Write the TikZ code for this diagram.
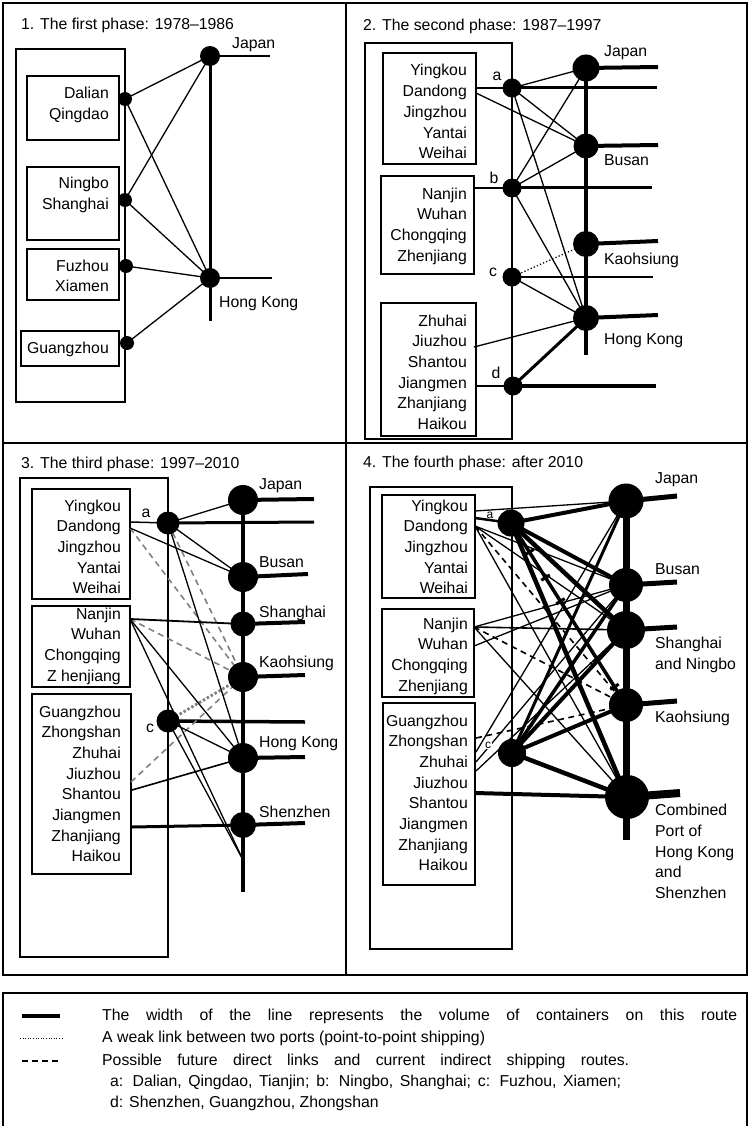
\documentclass[tikz,border=0pt]{standalone}
\usepackage{fontspec}
\setmainfont{Liberation Sans}
\newcommand\portlist[4]{\foreach \t [count=\i] in {#4}{\node[txt,anchor=east] (#1-\i) at (#2,{#3+20.7*(\i-1)}) {\t};}}
\tikzset{
  every node/.style={font=\fontsize{15.8}{19}\selectfont, inner sep=0pt},
  txt/.style={text height=11.3pt, text depth=3.3pt},
  smalltxt/.style={font=\fontsize{12}{14}\selectfont},
  hub/.style={circle, fill=black, inner sep=0pt, minimum size=#1},
  frameline/.style={line width=1.3pt},
  portbox/.style={draw, line width=1.8pt},
  link/.style={line width=1.3pt},
  futurelink/.style={line width=1.6pt, dash pattern=on 6pt off 4.5pt},
  greyfuture/.style={line width=1.6pt, gray, dash pattern=on 6pt off 4.5pt},
  greyweak/.style={line width=2.8pt, gray, dash pattern=on 2.5pt off 2pt},
  weaklink/.style={line width=1.3pt, dash pattern=on 1.2pt off 2.2pt},
  tickbar/.style={fill=black, inner sep=0pt, sloped, minimum width=3pt, minimum height=10pt},
}
\begin{document}
\begin{tikzpicture}[x=1pt,y=-1pt]
\useasboundingbox (0,0) rectangle (750,1126);

% ---------- frame of the four phases ----------
\draw[frameline] (3,3) rectangle (747,975);
\draw[frameline] (346,3) -- (346,975);
\draw[frameline] (3,443) -- (747,443);

% ================= 1. first phase =================
\node[anchor=west] (t1) at (21,25) {1. The first phase: 1978–1986};
\draw[portbox] (16,49) rectangle (125,402);
\draw[portbox] (27,76) rectangle (119,140);
\draw[portbox] (27,167) rectangle (119,240);
\draw[portbox] (27,249) rectangle (119,300);
\draw[portbox] (21,331) rectangle (119,366);
\portlist{pa}{109}{95}{Dalian,Qingdao}
\portlist{pb}{109}{185}{Ningbo,Shanghai}
\portlist{pc}{109}{267}{Fuzhou,Xiamen}
\portlist{pd}{109}{349}{Guangzhou}

\coordinate (J1) at (210,56);
\coordinate (H1) at (210,278);
\coordinate (J1e) at (270,56);
\coordinate (H1e) at (272,278);
\coordinate (T1) at (210,321);
\coordinate (d1a) at (125,99);
\coordinate (d1b) at (125,200);
\coordinate (d1c) at (126,266);
\coordinate (d1d) at (127,343);

\draw[line width=3pt] (J1) -- (T1);
\draw[line width=2.5pt] (J1) -- (J1e);
\draw[line width=2.5pt] (H1) -- (H1e);
\draw[link] (d1a) -- (J1);
\draw[link] (d1a) -- (H1);
\draw[link] (d1b) -- (J1);
\draw[link] (d1b) -- (H1);
\draw[link] (d1c) -- (H1);
\draw[link] (d1d) -- (H1);
\node[hub=20] (J1n) at (J1) {};
\node[hub=20] (H1n) at (H1) {};
\node[hub=14] (d1an) at (d1a) {};
\node[hub=14] (d1bn) at (d1b) {};
\node[hub=14] (d1cn) at (d1c) {};
\node[hub=14] (d1dn) at (d1d) {};
\node[txt,anchor=west] (J1l) at (232,45) {Japan};
\node[txt,anchor=west] (H1l) at (219,303) {Hong Kong};

% ================= 2. second phase =================
\node[anchor=west] (t2) at (363,26) {2. The second phase: 1987–1997};
\draw[portbox] (365,43) rectangle (512,439);
\draw[portbox] (383,53) rectangle (476,164);
\draw[portbox] (381,176) rectangle (474,274);
\draw[portbox] (381,303) rectangle (476,436);
\portlist{qa}{467}{72}{Yingkou,Dandong,Jingzhou,Yantai,Weihai}
\portlist{qb}{467}{195}{Nanjin,Wuhan,Chongqing,Zhenjiang}
\portlist{qc}{467}{322}{Zhuhai,Jiuzhou,Shantou,Jiangmen,Zhanjiang,Haikou}

\coordinate (J2) at (586,68);
\coordinate (B2) at (586,146);
\coordinate (K2) at (586,244);
\coordinate (H2) at (586,318);
\coordinate (T2) at (586,355);
\coordinate (a2) at (512,88);
\coordinate (b2) at (512,188);
\coordinate (c2) at (512,277);
\coordinate (d2) at (513,386);
\coordinate (ya2) at (476,88);
\coordinate (yd2) at (476,93);
\coordinate (yb2) at (474,188);
\coordinate (yj2) at (474,347);
\coordinate (yg2) at (476,386);

\draw[line width=4pt] (J2) -- (T2);
\draw[line width=4pt] (J2) -- (658,67);
\draw[line width=4pt] (B2) -- (658,145);
\draw[line width=4pt] (K2) -- (658,241);
\draw[line width=4pt] (H2) -- (658,315);
\draw[line width=3pt] (a2) -- (657,88);
\draw[line width=3pt] (b2) -- (652,188);
\draw[line width=2.5pt] (c2) -- (653,277);
\draw[line width=3.5pt] (d2) -- (656,386);
\draw[line width=2pt] (ya2) -- (a2);
\draw[line width=2pt] (yb2) -- (b2);
\draw[line width=2pt] (yg2) -- (d2);
\draw[link] (a2) -- (J2);
\draw[link] (a2) -- (B2);
\draw[link] (a2) -- (H2);
\draw[link] (yd2) -- (B2);
\draw[link] (b2) -- (J2);
\draw[link] (b2) -- (B2);
\draw[link] (b2) -- (H2);
\draw[link] (c2) -- (H2);
\draw[link] (yj2) -- (H2);
\draw[line width=3pt] (d2) -- (H2);
\draw[weaklink] (c2) -- (K2);
\node[hub=27] (J2n) at (J2) {};
\node[hub=25] (B2n) at (B2) {};
\node[hub=26] (K2n) at (K2) {};
\node[hub=26] (H2n) at (H2) {};
\node[hub=19] (a2n) at (a2) {};
\node[hub=19] (b2n) at (b2) {};
\node[hub=19] (c2n) at (c2) {};
\node[hub=19] (d2n) at (d2) {};
\node[txt] (a2l) at (497,77) {a};
\node[txt] (b2l) at (494,180) {b};
\node[txt] (c2l) at (493,272) {c};
\node[txt] (d2l) at (496,374) {d};
\node[txt,anchor=west] (J2l) at (604,53) {Japan};
\node[txt,anchor=west] (B2l) at (604,162) {Busan};
\node[txt,anchor=west] (K2l) at (604,260) {Kaohsiung};
\node[txt,anchor=west] (H2l) at (604,340) {Hong Kong};

% ================= 3. third phase =================
\node[anchor=west] (t3) at (21,464) {3. The third phase: 1997–2010};
\draw[portbox] (20,478) rectangle (168,957);
\draw[portbox] (32,489) rectangle (130,599);
\draw[portbox] (32,606) rectangle (130,687);
\draw[portbox] (32,694) rectangle (131,874);
\portlist{ra}{121}{507}{Yingkou,Dandong,Jingzhou,Yantai,Weihai}
\portlist{rb}{121}{615}{Nanjin,Wuhan,Chongqing,Z henjiang}
\portlist{rc}{121}{713}{Guangzhou,Zhongshan,Zhuhai,Jiuzhou,Shantou,Jiangmen,Zhanjiang,Haikou}

\coordinate (J3) at (243,500);
\coordinate (B3) at (243,577);
\coordinate (S3) at (243,624);
\coordinate (K3) at (243,677);
\coordinate (H3) at (243,758);
\coordinate (Z3) at (243,825);
\coordinate (T3) at (243,892);
\coordinate (L3) at (243,860);
\coordinate (a3) at (168,523);
\coordinate (c3) at (168,721);
\coordinate (ya3) at (130,522);
\coordinate (yd3) at (130,528);
\coordinate (yn3) at (130,619);
\coordinate (yj3) at (131,782);
\coordinate (ys3) at (132,790);
\coordinate (yg3) at (132,827);

\draw[line width=4pt] (J3) -- (T3);
\draw[line width=4pt] (J3) -- (314,499);
\draw[line width=4pt] (B3) -- (308,574);
\draw[line width=4pt] (S3) -- (305,622);
\draw[line width=4pt] (K3) -- (305,675);
\draw[line width=4pt] (H3) -- (305,757);
\draw[line width=4pt] (Z3) -- (305,823);
\draw[line width=3pt] (a3) -- (314,522);
\draw[line width=3.5pt] (c3) -- (305,722);
\draw[line width=1.5pt] (ya3) -- (a3);
\draw[greyfuture] (yd3) -- (K3);
\draw[greyfuture] (a3) -- (K3);
\draw[greyfuture] (yn3) -- (K3);
\draw[greyfuture] (yj3) -- (K3);
\draw[greyweak] (c3) -- (K3);
\draw[link] (a3) -- (J3);
\draw[link] (a3) -- (B3);
\draw[link] (a3) -- (H3);
\draw[link] (yd3) -- (B3);
\draw[line width=1.8pt] (yn3) -- (S3);
\draw[link] (yn3) -- (H3);
\draw[link] (yn3) -- (L3);
\draw[link] (c3) -- (H3);
\draw[link] (c3) -- (L3);
\draw[line width=1.6pt] (ys3) -- (H3);
\draw[line width=3pt] (yg3) -- (Z3);
\node[hub=30] (J3n) at (J3) {};
\node[hub=30] (B3n) at (B3) {};
\node[hub=25] (S3n) at (S3) {};
\node[hub=30] (K3n) at (K3) {};
\node[hub=30] (H3n) at (H3) {};
\node[hub=26] (Z3n) at (Z3) {};
\node[hub=23] (a3n) at (a3) {};
\node[hub=23] (c3n) at (c3) {};
\node[txt] (a3l) at (146,513) {a};
\node[txt] (c3l) at (150,728) {c};
\node[txt,anchor=west] (J3l) at (259,485) {Japan};
\node[txt,anchor=west] (B3l) at (259,563) {Busan};
\node[txt,anchor=west] (S3l) at (259,613) {Shanghai};
\node[txt,anchor=west] (K3l) at (259,663) {Kaohsiung};
\node[txt,anchor=west] (H3l) at (259,743) {Hong Kong};
\node[txt,anchor=west] (Z3l) at (259,813) {Shenzhen};

% ================= 4. fourth phase =================
\node[anchor=west] (t4) at (363,463) {4. The fourth phase: after 2010};
\draw[portbox] (370,487) rectangle (512,949);
\draw[portbox] (382,495) rectangle (475,598);
\draw[portbox] (382,609) rectangle (474,697);
\draw[portbox] (383,703) rectangle (475,885);
\portlist{sa}{468}{507}{Yingkou,Dandong,Jingzhou,Yantai,Weihai}
\portlist{sb}{468}{625}{Nanjin,Wuhan,Chongqing,Zhenjiang}
\portlist{sc}{468}{722}{Guangzhou,Zhongshan,Zhuhai,Jiuzhou,Shantou,Jiangmen,Zhanjiang,Haikou}

\coordinate (J4) at (626,501);
\coordinate (B4) at (626,585);
\coordinate (S4) at (626,630);
\coordinate (K4) at (626,705);
\coordinate (C4) at (627,797);
\coordinate (T4) at (626,840);
\coordinate (a4) at (511,523);
\coordinate (c4) at (512,753);
\coordinate (ey4) at (475,511);
\coordinate (ea4) at (475,518);
\coordinate (ed4) at (475,526);
\coordinate (en4) at (474,627);
\coordinate (ew4) at (474,646);
\coordinate (eg4) at (476,738);
\coordinate (ez4) at (476,752);
\coordinate (eh4) at (476,762);
\coordinate (ei4) at (476,771);
\coordinate (ej4) at (475,793);

\draw[line width=7pt] (J4) -- (T4);
\draw[line width=5pt] (J4) -- (677,496);
\draw[line width=5pt] (B4) -- (677,582);
\draw[line width=5pt] (S4) -- (677,627);
\draw[line width=5pt] (K4) -- (677,701);
\draw[line width=8pt] (C4) -- (680,793);
\draw[line width=2.5pt] (ea4) -- (a4);
% thin links from the box edges
\draw[link] (ey4) -- (J4);
\draw[link] (ed4) -- (B4);
\draw[link] (ed4) -- (S4);
\draw[link] (ed4) -- (C4);
\draw[line width=1.6pt] (en4) -- (S4);
\draw[link] (en4) -- (B4);
\draw[link] (ew4) -- (B4);
\draw[link] (en4) -- (C4);
\draw[link] (ez4) -- (J4);
\draw[link] (eh4) -- (B4);
\draw[link] (ei4) -- (S4);
\draw[link] (a4) -- (C4);
% future links
\draw[futurelink] (ed4) -- (K4);
\draw[futurelink] (en4) -- (K4);
\draw[futurelink] (eg4) -- (K4);
% heavy links from a and c
\draw[line width=4pt] (a4) -- (J4);
\draw[line width=4pt] (a4) -- (B4);
\draw[line width=4.5pt] (a4) -- (S4);
\draw[line width=3.5pt] (a4) -- (K4)
  node[tickbar, pos=0.16] (tk1) {}
  node[tickbar, pos=0.30] (tk2) {}
  node[tickbar, pos=0.43] (tk3) {}
  node[tickbar, pos=0.75] (tk4) {}
  node[tickbar, pos=0.90] (tk5) {};
\draw[line width=4.5pt] (a4) -- (C4);
\draw[line width=3pt] (c4) -- (J4);
\draw[line width=3.5pt] (c4) -- (B4);
\draw[line width=4pt] (c4) -- (S4);
\draw[line width=4pt] (c4) -- (K4);
\draw[line width=4.5pt] (c4) -- (C4);
\draw[line width=4pt] (ej4) -- (C4);
\node[hub=35] (J4n) at (J4) {};
\node[hub=34] (B4n) at (B4) {};
\node[hub=38] (S4n) at (S4) {};
\node[hub=34] (K4n) at (K4) {};
\node[hub=44] (C4n) at (C4) {};
\node[hub=27] (a4n) at (a4) {};
\node[hub=28] (c4n) at (c4) {};
\node[smalltxt] (a4l) at (490,515) {a};
\node[smalltxt, fill=white, inner sep=0.6pt] (c4l) at (488,745) {c};
\node[txt,anchor=west] (J4l) at (655,479) {Japan};
\node[txt,anchor=west] (B4l) at (655,570) {Busan};
\node[anchor=north west, align=left, font=\fontsize{15.8}{20.7}\selectfont] (S4l) at (655,637) {Shanghai\\and Ningbo};
\node[txt,anchor=west] (K4l) at (655,718) {Kaohsiung};
\node[anchor=north west, align=left, font=\fontsize{15.8}{20.7}\selectfont] (C4l) at (655,804) {Combined\\Port of\\Hong Kong\\and\\Shenzhen};

% ================= legend =================
\draw[frameline] (3,1126) -- (3,993) -- (747,993) -- (747,1126);
\coordinate (k1a) at (22,1016);
\coordinate (k1b) at (60,1016);
\coordinate (k2a) at (20,1038);
\coordinate (k2b) at (62,1038);
\coordinate (k3a) at (22,1061);
\coordinate (k3b) at (58,1061);
\draw[line width=4pt] (k1a) -- (k1b);
\draw[line width=1pt, dash pattern=on 0.9pt off 1.7pt] (k2a) -- (k2b);
\draw[line width=1.2pt, dash pattern=on 6pt off 4pt] (k3a) -- (k3b);
\node[txt,anchor=west] (g1) at (102,1016) {\makebox[635pt][s]{The width of the line represents the volume of containers on this route}};
\node[txt,anchor=west] (g2) at (102,1038) {A weak link between two ports (point-to-point shipping)};
\node[txt,anchor=west] (g3) at (102,1061) {\makebox[527pt][s]{Possible future direct links and current indirect shipping routes.}};
\node[txt,anchor=west] (g4) at (110,1082) {\makebox[511pt][s]{a: Dalian, Qingdao, Tianjin; b: Ningbo, Shanghai; c: Fuzhou, Xiamen;}};
\node[txt,anchor=west] (g5) at (110,1103) {d: Shenzhen, Guangzhou, Zhongshan};
\end{tikzpicture}
\end{document}
